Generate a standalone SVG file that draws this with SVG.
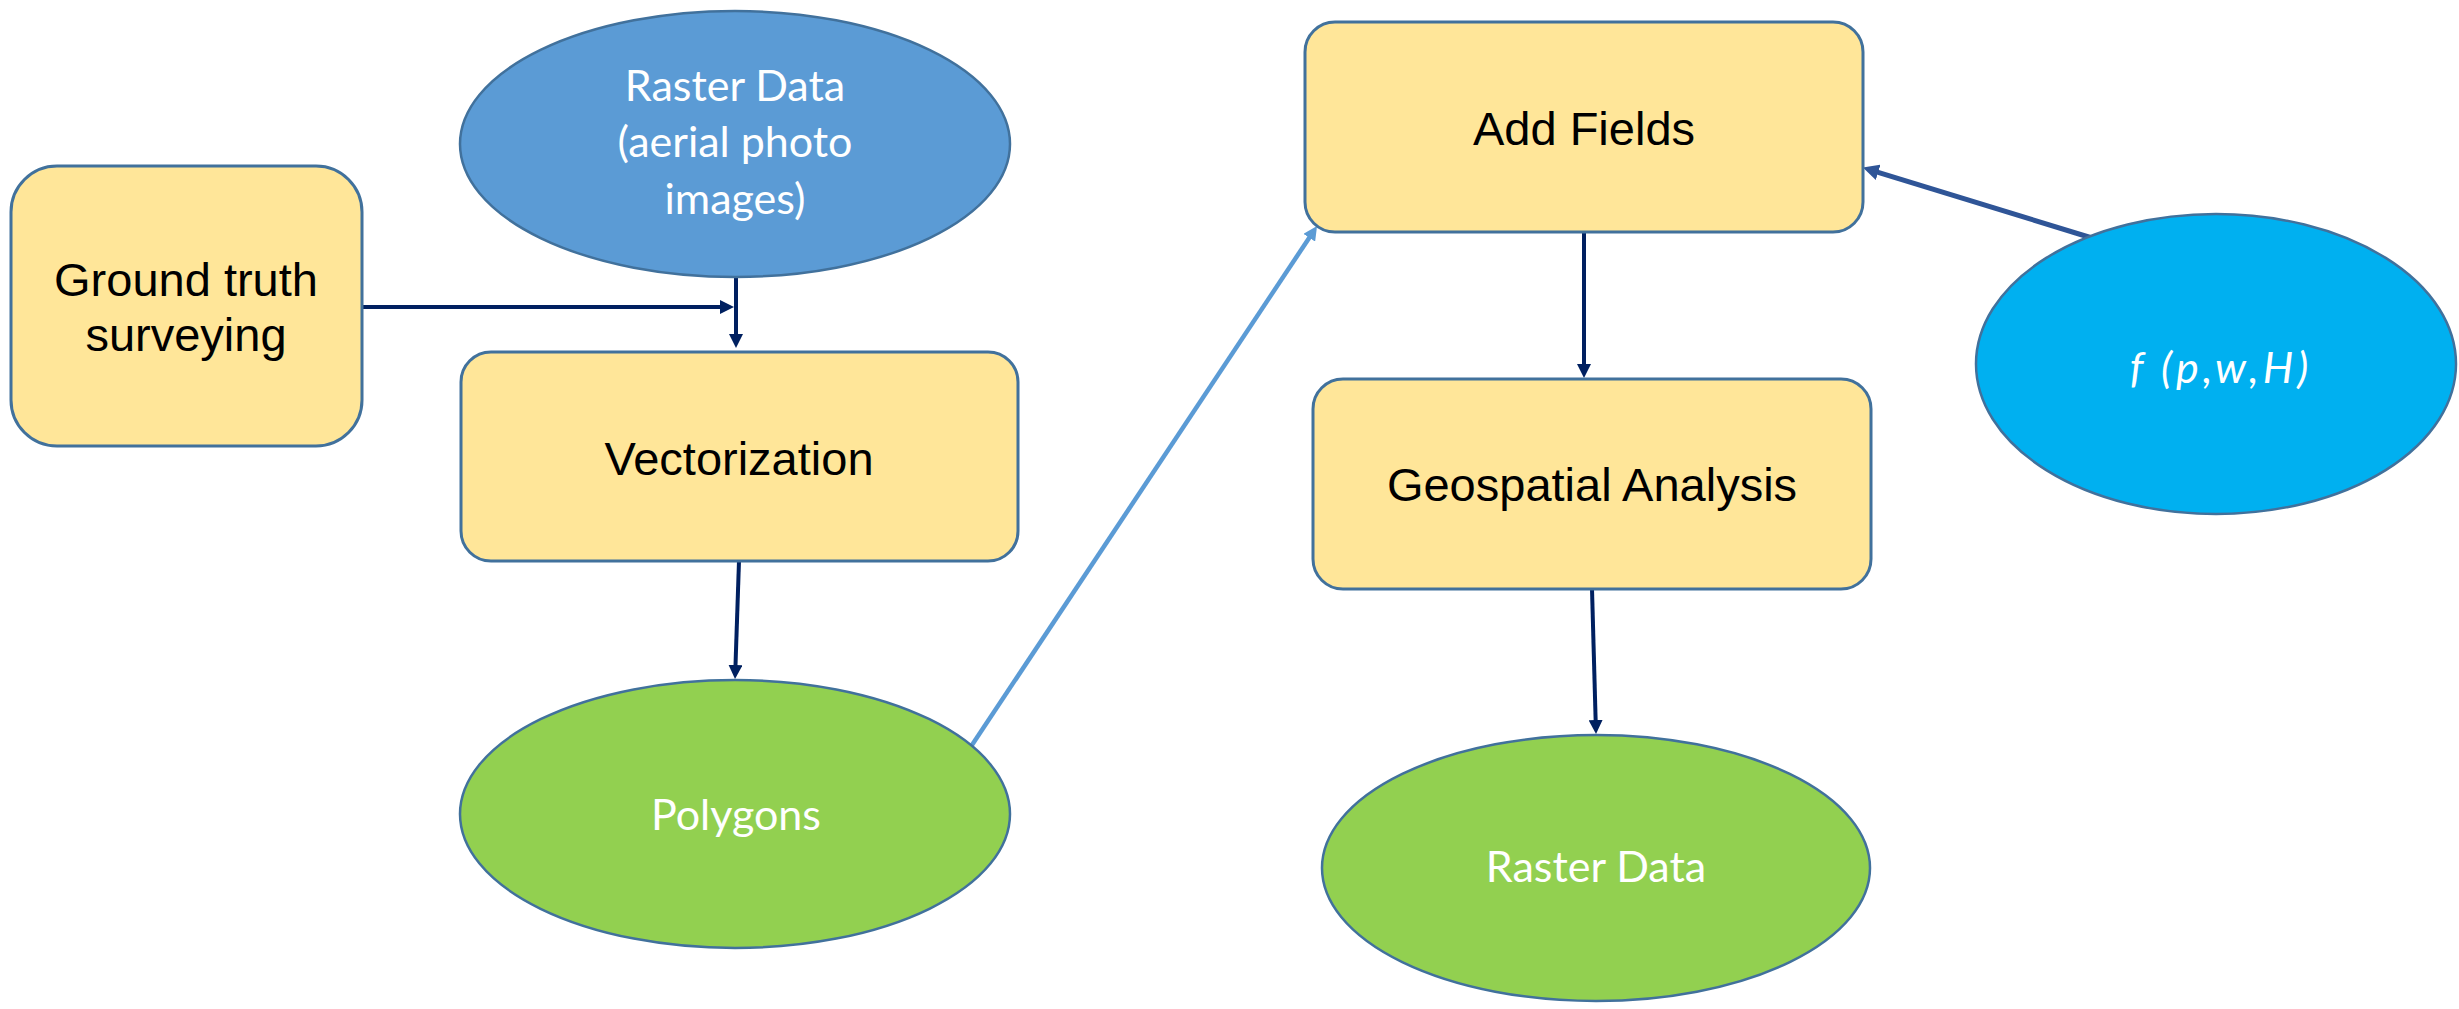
<svg xmlns="http://www.w3.org/2000/svg" width="2459" height="1009" viewBox="0 0 2459 1009">
  <style>
    .box { fill: #FFE699; stroke: #41719C; stroke-width: 3; }
    .ell { stroke: #41719C; stroke-width: 2.5; }
    .dark { fill: #000000; font-family: "Liberation Sans", Arial, sans-serif; font-size: 47px; text-anchor: middle; }
    .light { fill: #FFFFFF; font-family: Lato, "Open Sans", sans-serif; font-size: 43px; text-anchor: middle; }
    .link { fill: none; stroke: #002060; stroke-width: 4; }
  </style>
  <defs>
    <marker id="headDark" viewBox="0 0 14 14" markerUnits="userSpaceOnUse" markerWidth="14" markerHeight="14" refX="6" refY="7" orient="auto">
      <path d="M0,0 L14,7 L0,14 z" fill="#002060"/>
    </marker>
    <marker id="headLight" viewBox="0 0 14 14" markerUnits="userSpaceOnUse" markerWidth="14" markerHeight="14" refX="6" refY="7" orient="auto">
      <path d="M0,0 L14,7 L0,14 z" fill="#5B9BD5"/>
    </marker>
    <marker id="headMid" viewBox="0 0 14 14" markerUnits="userSpaceOnUse" markerWidth="16" markerHeight="16" refX="6" refY="7" orient="auto">
      <path d="M0,0 L14,7 L0,14 z" fill="#2F5597"/>
    </marker>
  </defs>

  <!-- connectors -->
  <g id="connectors">
    <path class="link" d="M362,307 L726,307" marker-end="url(#headDark)"/>
    <path class="link" d="M736,278 L736,340" marker-end="url(#headDark)"/>
    <path class="link" d="M739,561 L735.3,671" marker-end="url(#headDark)"/>
    <path fill="none" stroke="#5B9BD5" stroke-width="4.5" d="M970,748 L1312.6,232.7" marker-end="url(#headLight)"/>
    <path fill="none" stroke="#2F5597" stroke-width="5" d="M2092,238 L1871.6,170.3" marker-end="url(#headMid)"/>
    <path class="link" d="M1584,232 L1584,370" marker-end="url(#headDark)"/>
    <path class="link" d="M1592,589 L1595.8,726" marker-end="url(#headDark)"/>
  </g>

  <g id="ground-truth">
    <rect class="box" x="11" y="166" width="351" height="280" rx="46" ry="46"/>
    <text class="dark" x="186" y="296" font-size="48">Ground truth</text>
    <text class="dark" x="186" y="351" font-size="48">surveying</text>
  </g>

  <g id="raster-input">
    <ellipse class="ell" fill="#5B9BD5" cx="735" cy="144" rx="275" ry="133"/>
    <text class="light" x="735" y="101">Raster Data</text>
    <text class="light" x="735" y="157">(aerial photo</text>
    <text class="light" x="735" y="214">images)</text>
  </g>

  <g id="vectorization">
    <rect class="box" x="461" y="352" width="557" height="209" rx="30" ry="30"/>
    <text class="dark" x="739" y="475">Vectorization</text>
  </g>

  <g id="polygons">
    <ellipse class="ell" fill="#92D050" cx="735" cy="814" rx="275" ry="134"/>
    <text class="light" x="736" y="830">Polygons</text>
  </g>

  <g id="add-fields">
    <rect class="box" x="1305" y="22" width="558" height="210" rx="30" ry="30"/>
    <text class="dark" x="1584" y="145">Add Fields</text>
  </g>

  <g id="geospatial">
    <rect class="box" x="1313" y="379" width="558" height="210" rx="30" ry="30"/>
    <text class="dark" x="1592" y="501">Geospatial Analysis</text>
  </g>

  <g id="raster-output">
    <ellipse class="ell" fill="#92D050" cx="1596" cy="868" rx="274" ry="133"/>
    <text class="light" x="1596" y="882">Raster Data</text>
  </g>

  <g id="function">
    <ellipse class="ell" fill="#00B0F0" cx="2216" cy="364" rx="240" ry="150"/>
    <text class="light" x="2221" y="383" font-style="italic" font-size="56" letter-spacing="4">f (p,w,H)</text>
  </g>
</svg>
